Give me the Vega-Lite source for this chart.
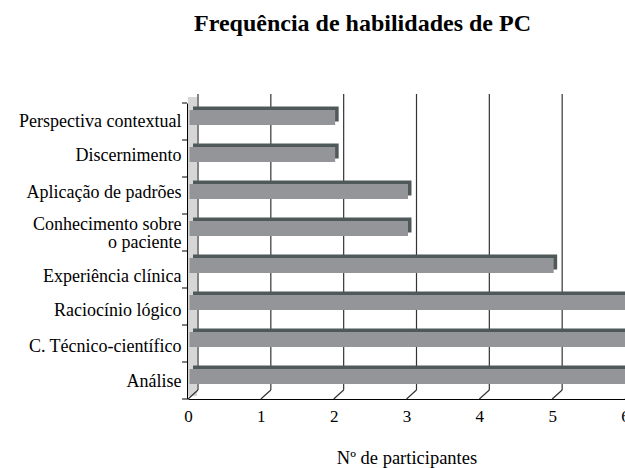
{
  "$schema": "https://vega.github.io/schema/vega-lite/v6.json",
  "width": 437,
  "height": 296,
  "autosize": {"type": "none"},
  "padding": {"left": 188, "top": 103, "right": 0, "bottom": 69},
  "background": "white",
  "config": {
    "view": {"stroke": null},
    "font": "Liberation Serif",
    "axis": {"labelFont": "Liberation Serif", "titleFont": "Liberation Serif"},
    "style": {
      "guide-label": {"font": "Liberation Serif"},
      "guide-title": {"font": "Liberation Serif"}
    }
  },
  "title": {
    "text": "Frequência de habilidades de PC",
    "font": "Liberation Serif",
    "fontSize": 24,
    "fontWeight": "bold",
    "color": "black",
    "anchor": "middle",
    "dx": -44,
    "baseline": "alphabetic",
    "offset": 38
  },
  "resolve": {"axis": {"x": "independent", "y": "independent"}},
  "datasets": {
    "skills": [
      {"h": "Perspectiva contextual", "n": 2},
      {"h": "Discernimento", "n": 2},
      {"h": "Aplicação de padrões", "n": 3},
      {"h": "Conhecimento sobre o paciente", "n": 3},
      {"h": "Experiência clínica", "n": 5},
      {"h": "Raciocínio lógico", "n": 7},
      {"h": "C. Técnico-científico", "n": 7},
      {"h": "Análise", "n": 7}
    ],
    "ticks": [{"v": 0}, {"v": 1}, {"v": 2}, {"v": 3}, {"v": 4}, {"v": 5}, {"v": 6}]
  },
  "layer": [
    {
      "data": {"values": [{}]},
      "mark": {"type": "rect", "color": "#d6d6d6", "x2Offset": 9, "yOffset": -6, "y2Offset": -3},
      "encoding": {
        "x": {"datum": 0, "type": "quantitative", "axis": null},
        "x2": {"datum": 0},
        "y": {"value": 0},
        "y2": {"value": "height"}
      }
    },
    {
      "data": {"values": [{}]},
      "mark": {"type": "rule", "color": "black", "strokeWidth": 1, "xOffset": -6, "x2Offset": -1},
      "encoding": {
        "x": {"datum": 0, "type": "quantitative", "axis": null},
        "x2": {"datum": 0},
        "y": {"value": "height"}
      }
    },
    {
      "data": {"name": "ticks"},
      "mark": {"type": "rule", "color": "#333333", "strokeWidth": 1.2, "xOffset": 10, "yOffset": -9, "y2Offset": -9},
      "encoding": {
        "x": {"field": "v", "type": "quantitative", "axis": null},
        "y": {"value": 0},
        "y2": {"value": "height"}
      }
    },
    {
      "data": {"name": "ticks"},
      "mark": {"type": "rule", "color": "#333333", "strokeWidth": 1.2, "x2Offset": 10, "y2Offset": -9},
      "encoding": {
        "x": {"field": "v", "type": "quantitative", "axis": null},
        "x2": {"field": "v"},
        "y": {"value": "height"},
        "y2": {"value": "height"}
      }
    },
    {
      "data": {"name": "skills"},
      "mark": {"type": "rule", "color": "black", "strokeWidth": 1, "xOffset": -6, "x2Offset": -1},
      "encoding": {
        "x": {"datum": 0, "type": "quantitative", "axis": null},
        "x2": {"datum": 0},
        "y": {"field": "h", "type": "nominal", "sort": null, "bandPosition": 0, "axis": null}
      }
    },
    {
      "data": {"name": "skills"},
      "mark": {"type": "bar", "color": "#4f5959", "size": 15, "xOffset": 5, "x2Offset": 5, "yOffset": -7.5, "y2Offset": -7.5, "clip": true},
      "encoding": {
        "x": {"field": "n", "type": "quantitative", "axis": null},
        "y": {"field": "h", "type": "nominal", "sort": null, "axis": null}
      }
    },
    {
      "data": {"name": "skills"},
      "mark": {"type": "bar", "color": "#939598", "size": 15, "xOffset": 1.5, "x2Offset": 1.5, "yOffset": -4, "y2Offset": -4, "clip": true},
      "encoding": {
        "x": {
          "field": "n",
          "type": "quantitative",
          "scale": {"domain": [0, 6], "nice": false, "zero": true},
          "axis": {
            "title": "Nº de participantes",
            "values": [0, 1, 2, 3, 4, 5, 6],
            "format": "d",
            "grid": false,
            "ticks": false,
            "domainColor": "black",
            "domainWidth": 1,
            "labelFont": "Liberation Serif",
            "labelFontSize": 17,
            "labelColor": "black",
            "labelPadding": 9,
            "labelFlush": false,
            "titleFont": "Liberation Serif",
            "titleFontSize": 18.5,
            "titleFontWeight": "normal",
            "titleColor": "black",
            "titlePadding": 24
          }
        },
        "y": {
          "field": "h",
          "type": "nominal",
          "sort": null,
          "scale": {"paddingInner": 0, "paddingOuter": 0},
          "axis": {
            "title": null,
            "ticks": false,
            "domain": true,
            "domainColor": "black",
            "offset": 1,
            "labelFont": "Liberation Serif",
            "labelFontSize": 18,
            "labelColor": "black",
            "labelPadding": 6,
            "labelLimit": 0,
            "labelLineHeight": 18,
            "labelOffset": {
              "condition": [
                {"test": "datum.value == 'Discernimento'", "value": -2.5},
                {"test": "datum.value == 'Aplicação de padrões'", "value": -3},
                {"test": "datum.value == 'Conhecimento sobre o paciente'", "value": -7.6},
                {"test": "datum.value == 'Experiência clínica'", "value": 7},
                {"test": "datum.value == 'Raciocínio lógico'", "value": 4.4},
                {"test": "datum.value == 'C. Técnico-científico'", "value": 3.8},
                {"test": "datum.value == 'Análise'", "value": 1}
              ],
              "value": 0
            },
            "labelExpr": "datum.value == 'Conhecimento sobre o paciente' ? ['Conhecimento sobre', 'o paciente'] : datum.value"
          }
        }
      }
    }
  ]
}
